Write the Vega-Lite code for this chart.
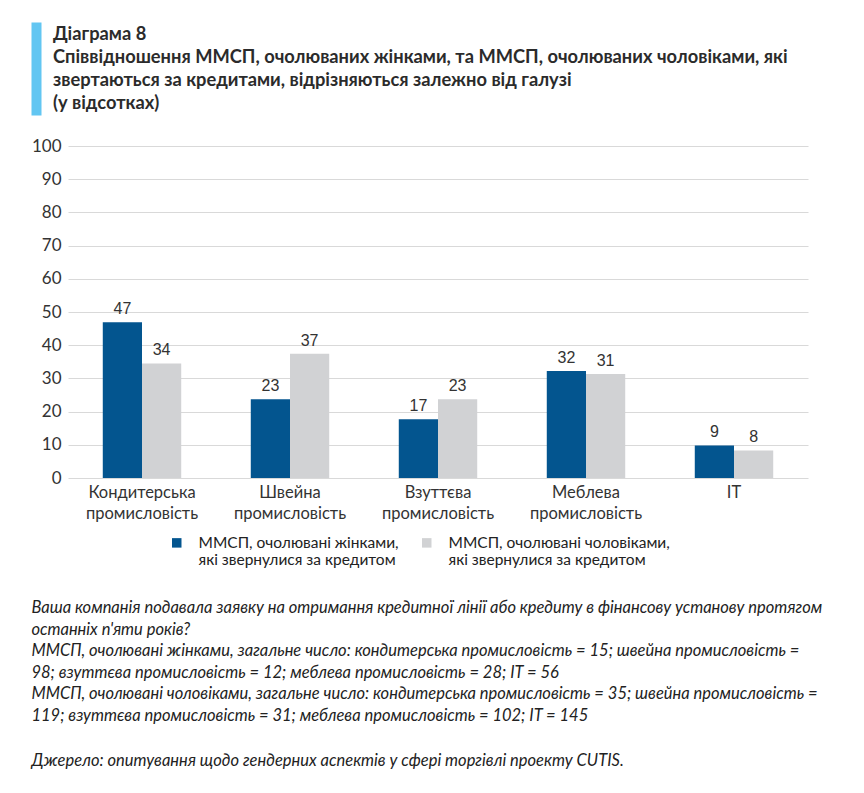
{
  "$schema": "https://vega.github.io/schema/vega-lite/v6.json",
  "padding": {"left": 31, "top": 22, "right": 10, "bottom": 10},
  "background": "white",
  "config": {"font": "Lato", "view": {"stroke": null}, "legend": {"layout": {"bottom": {"anchor": "middle"}}}},
  "spacing": 22,
  "title": {
    "text": [
      "Ваша компанія подавала заявку на отримання кредитної лінії або кредиту в фінансову установу протягом",
      "останніх п'яти років?",
      "ММСП, очолювані жінками, загальне число: кондитерська промисловість = 15; швейна промисловість =",
      "98; взуттєва промисловість = 12; меблева промисловість = 28; IT = 56",
      "ММСП, очолювані чоловіками, загальне число: кондитерська промисловість = 35; швейна промисловість =",
      "119; взуттєва промисловість = 31; меблева промисловість = 102; IT = 145"
    ],
    "subtitle": "Джерело: опитування щодо гендерних аспектів у сфері торгівлі проекту CUTIS.",
    "orient": "bottom",
    "anchor": "start",
    "font": "Lato",
    "fontStyle": "italic",
    "fontWeight": "normal",
    "fontSize": 16.5,
    "lineHeight": 21.5,
    "color": "#222222",
    "subtitleFont": "Lato",
    "subtitleFontStyle": "italic",
    "subtitleFontWeight": "normal",
    "subtitleFontSize": 16.5,
    "subtitleColor": "#222222",
    "subtitlePadding": 29,
    "offset": 31
  },
  "datasets": {
    "bars": [
      {"industry": "Кондитерська промисловість", "series": "ММСП, очолювані жінками, які звернулися за кредитом", "value": 46.9, "label": "47"},
      {"industry": "Кондитерська промисловість", "series": "ММСП, очолювані чоловіками, які звернулися за кредитом", "value": 34.5, "label": "34"},
      {"industry": "Швейна промисловість", "series": "ММСП, очолювані жінками, які звернулися за кредитом", "value": 23.7, "label": "23"},
      {"industry": "Швейна промисловість", "series": "ММСП, очолювані чоловіками, які звернулися за кредитом", "value": 37.4, "label": "37"},
      {"industry": "Взуттєва промисловість", "series": "ММСП, очолювані жінками, які звернулися за кредитом", "value": 17.7, "label": "17"},
      {"industry": "Взуттєва промисловість", "series": "ММСП, очолювані чоловіками, які звернулися за кредитом", "value": 23.7, "label": "23"},
      {"industry": "Меблева промисловість", "series": "ММСП, очолювані жінками, які звернулися за кредитом", "value": 32.2, "label": "32"},
      {"industry": "Меблева промисловість", "series": "ММСП, очолювані чоловіками, які звернулися за кредитом", "value": 31.3, "label": "31"},
      {"industry": "IT", "series": "ММСП, очолювані жінками, які звернулися за кредитом", "value": 9.8, "label": "9"},
      {"industry": "IT", "series": "ММСП, очолювані чоловіками, які звернулися за кредитом", "value": 8.3, "label": "8"}
    ]
  },
  "vconcat": [
    {
      "width": 1,
      "height": 93,
      "data": {"values": [{"v": 0}]},
      "mark": {"type": "point", "opacity": 0},
      "encoding": {
        "y": {
          "field": "v",
          "type": "quantitative",
          "axis": {
            "title": null,
            "labels": false,
            "ticks": false,
            "grid": false,
            "domain": true,
            "domainColor": "#62c6f2",
            "domainWidth": 10,
            "domainCap": "butt",
            "offset": 32
          }
        }
      },
      "title": {
        "text": [
          "Діаграма 8",
          "Співвідношення ММСП, очолюваних жінками, та ММСП, очолюваних чоловіками, які",
          "звертаються за кредитами, відрізняються залежно від галузі",
          "(у відсотках)"
        ],
        "orient": "bottom",
        "anchor": "start",
        "frame": "group",
        "align": "left",
        "baseline": "top",
        "offset": 0,
        "dx": -15,
        "dy": -89,
        "font": "Lato",
        "fontSize": 18.3,
        "fontWeight": "bold",
        "lineHeight": 23,
        "color": "#2b2b2b"
      }
    },
    {
      "width": 740,
      "height": 332,
      "data": {"name": "bars"},
      "encoding": {
        "x": {
          "field": "industry",
          "type": "nominal",
          "sort": null,
          "scale": {"paddingInner": 0.47, "paddingOuter": 0.235},
          "axis": {
            "title": null,
            "labelAngle": 0,
            "labelExpr": "split(datum.label, ' ')",
            "labelFont": "Lato",
            "labelFontSize": 16.5,
            "labelColor": "#333333",
            "labelLineHeight": 21,
            "labelPadding": 6,
            "ticks": false,
            "domain": false
          }
        },
        "xOffset": {
          "field": "series",
          "type": "nominal",
          "sort": ["ММСП, очолювані жінками, які звернулися за кредитом", "ММСП, очолювані чоловіками, які звернулися за кредитом"],
          "scale": {"paddingInner": 0, "paddingOuter": 0}
        },
        "y": {
          "field": "value",
          "type": "quantitative",
          "scale": {"domain": [0, 100], "nice": false},
          "axis": {
            "title": null,
            "values": [0, 10, 20, 30, 40, 50, 60, 70, 80, 90, 100],
            "labelFont": "Lato",
            "labelFontSize": 17,
            "labelColor": "#333333",
            "labelPadding": 7,
            "ticks": false,
            "domain": false,
            "gridColor": "#d9d9d9",
            "gridWidth": 1
          }
        }
      },
      "layer": [
        {
          "mark": {"type": "bar"},
          "encoding": {
            "color": {
              "field": "series",
              "type": "nominal",
              "scale": {
                "domain": ["ММСП, очолювані жінками, які звернулися за кредитом", "ММСП, очолювані чоловіками, які звернулися за кредитом"],
                "range": ["#03558f", "#d1d2d4"]
              },
              "legend": {
                "title": null,
                "orient": "bottom",
                "offset": 13,
                "padding": 0,
                "direction": "horizontal",
                "symbolType": "square",
                "symbolSize": 90,
                "symbolStrokeWidth": 0,
                "labelFont": "Lato",
                "labelFontSize": 15.5,
                "labelColor": "#222222",
                "labelLimit": 400,
                "labelOffset": 14,
                "columnPadding": 20,
                "labelExpr": "[slice(datum.label, 0, indexof(datum.label, ' які')), slice(datum.label, indexof(datum.label, ' які') + 1)]"
              }
            }
          }
        },
        {
          "mark": {"type": "text", "font": "Liberation Sans", "fontSize": 16, "color": "#333333", "baseline": "alphabetic", "dy": -8},
          "encoding": {"text": {"field": "label"}}
        }
      ]
    }
  ]
}
